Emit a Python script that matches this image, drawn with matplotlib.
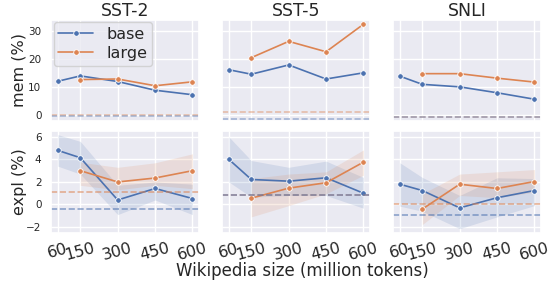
import matplotlib
matplotlib.use("Agg")
import matplotlib.pyplot as plt
import seaborn as sns
import numpy as np

sns.set_theme(style="darkgrid", palette="deep")

sizes = [60, 150, 300, 450, 600]
sizes_large = [150, 300, 450, 600]
tasks = ["SST-2", "SST-5", "SNLI"]

# mem (%)
mem_base = {
    "SST-2": [12.1, 14.0, 12.0, 8.9, 7.3],
    "SST-5": [16.2, 14.6, 17.9, 12.9, 15.1],
    "SNLI": [13.9, 11.0, 10.1, 8.0, 5.7],
}
mem_large = {
    "SST-2": [12.7, 12.9, 10.5, 11.9],
    "SST-5": [20.5, 26.3, 22.6, 32.4],
    "SNLI": [14.8, 14.8, 13.2, 11.8],
}
mem_ref_base = {"SST-2": -0.4, "SST-5": -1.2, "SNLI": -0.8}
mem_ref_large = {"SST-2": 0.0, "SST-5": 1.1, "SNLI": -0.8}

# expl (%)
expl_base = {
    "SST-2": [4.8, 4.15, 0.4, 1.42, 0.53],
    "SST-5": [4.0, 2.22, 2.07, 2.37, 1.0],
    "SNLI": [1.8, 1.24, -0.3, 0.6, 1.24],
}
expl_base_lo = {
    "SST-2": [3.4, 2.7, -0.9, 0.4, -0.9],
    "SST-5": [2.0, 0.65, 0.8, 0.8, -0.33],
    "SNLI": [-0.15, -0.6, -2.15, -1.1, -0.1],
}
expl_base_hi = {
    "SST-2": [6.2, 5.6, 1.7, 2.0, 1.8],
    "SST-5": [6.0, 3.9, 3.3, 3.85, 2.4],
    "SNLI": [3.7, 2.4, 0.8, 2.37, 2.3],
}
expl_large = {
    "SST-2": [3.0, 2.0, 2.35, 3.0],
    "SST-5": [0.56, 1.45, 1.93, 3.76],
    "SNLI": [-0.41, 1.8, 1.42, 2.04],
}
expl_large_lo = {
    "SST-2": [1.7, 1.3, 1.7, 1.4],
    "SST-5": [-1.1, -0.1, 0.95, 2.6],
    "SNLI": [-1.78, 0.8, 0.6, 1.1],
}
expl_large_hi = {
    "SST-2": [3.75, 3.3, 3.7, 4.5],
    "SST-5": [2.3, 2.7, 2.9, 4.85],
    "SNLI": [0.95, 2.7, 2.9, 3.1],
}
expl_ref_base = {"SST-2": -0.39, "SST-5": 0.8, "SNLI": -0.92}
expl_ref_large = {"SST-2": 1.07, "SST-5": 0.8, "SNLI": 0.06}

c_base, c_large = sns.color_palette("deep")[0], sns.color_palette("deep")[1]

fig, axes = plt.subplots(2, 3, figsize=(5.5, 2.82), dpi=100, sharey="row", sharex=True)
fig.subplots_adjust(left=0.093, right=0.984, top=0.93, bottom=0.175, wspace=0.155, hspace=0.1)

mk = dict(marker="o", markersize=4, markeredgecolor="white", markeredgewidth=0.6, lw=1.2)

for j, t in enumerate(tasks):
    ax = axes[0, j]
    ax.plot(sizes, mem_base[t], color=c_base, label="base", **mk)
    ax.plot(sizes_large, mem_large[t], color=c_large, label="large", **mk)
    ax.axhline(mem_ref_large[t], color=c_large, ls="--", lw=1.2, alpha=0.45)
    ax.axhline(mem_ref_base[t], color=c_base, ls="--", lw=1.2, alpha=0.45)
    ax.set_title(t, fontsize=12.5, pad=3)

    ax = axes[1, j]
    ax.fill_between(sizes, expl_base_lo[t], expl_base_hi[t], color=c_base, alpha=0.15, lw=0)
    ax.fill_between(sizes_large, expl_large_lo[t], expl_large_hi[t], color=c_large, alpha=0.15, lw=0)
    ax.plot(sizes, expl_base[t], color=c_base, **mk)
    ax.plot(sizes_large, expl_large[t], color=c_large, **mk)
    ax.axhline(expl_ref_large[t], color=c_large, ls="--", lw=1.2, alpha=0.6)
    ax.axhline(expl_ref_base[t], color=c_base, ls="--", lw=1.2, alpha=0.6)

    ax.set_xticks(sizes)
    ax.set_xticklabels([str(s) for s in sizes], rotation=15, fontsize=11.5)
    ax.tick_params(axis="x", pad=0)

for ax in axes.ravel():
    ax.tick_params(axis="y", labelsize=7.5, pad=1)

axes[0, 0].set_ylim(-2.1, 34)
axes[0, 0].set_yticks([0, 10, 20, 30])
axes[1, 0].set_ylim(-2.5, 6.5)
axes[1, 0].set_yticks([-2, 0, 2, 4, 6])
axes[0, 0].set_ylabel("mem (%)", fontsize=11.5)
axes[1, 0].set_ylabel("expl (%)", fontsize=11.5)
axes[0, 0].yaxis.set_label_coords(-0.165, 0.5)
axes[1, 0].yaxis.set_label_coords(-0.165, 0.5)

leg = axes[0, 0].legend(loc="upper left", fontsize=11.5, handlelength=2.2,
                        borderpad=0.3, labelspacing=0.25, borderaxespad=0.15)

fig.text(0.55, 0.008, "Wikipedia size (million tokens)", ha="center", va="bottom", fontsize=12)

plt.savefig("out.png", dpi=100)
